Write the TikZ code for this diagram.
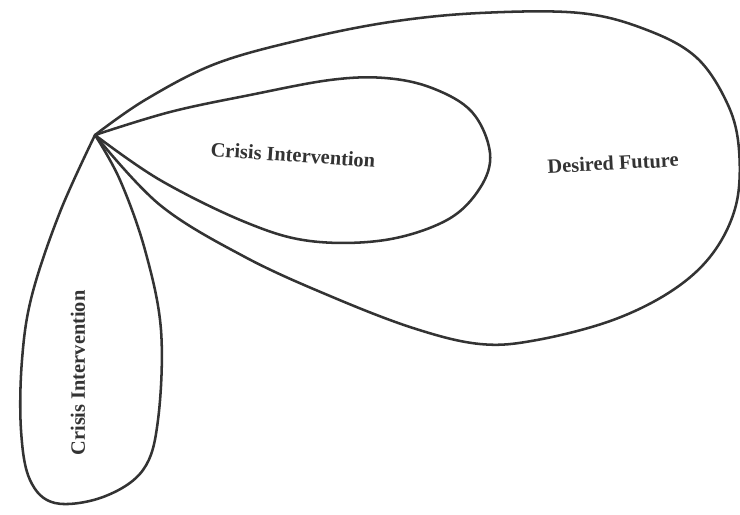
\documentclass[tikz,border=0pt]{standalone}
\usepackage{fontspec}
\setmainfont{Liberation Serif}
\usepackage{tikz}

\begin{document}
\begin{tikzpicture}[
  x=0.025cm, y=-0.025cm,
  loopline/.style = {draw=black!80, line width=1.8pt, line join=round, line cap=round},
  lbl/.style = {font=\bfseries\fontsize{14.5}{16}\selectfont, text=black!80, inner sep=0pt}
]
\useasboundingbox (0,0) rectangle (740,514);
\coordinate (apex) at (95,135);

% outer loop
\draw[loopline] plot[smooth, tension=0.6] coordinates {
  (apex) (145,100) (215,64) (300,40) (390,22) (480,13) (580,13) (647,30)
  (697,58) (728,105) (739,150) (736,205) (713,253) (673,290) (613,320)
  (537,340) (480,344) (413,328) (330,296) (245,257) (160,205) (apex)};
% inner loop
\draw[loopline] plot[smooth, tension=0.6] coordinates {
  (apex) (170,112) (250,95) (330,80) (385,78) (432,88) (472,112) (490,153)
  (480,188) (447,220) (385,240) (310,241) (245,222) (160,180) (apex)};
% left loop
\draw[loopline] plot[smooth, tension=0.6] coordinates {
  (apex) (60,212) (32,295) (22,360) (21,430) (30,480) (55,503) (103,497)
  (143,470) (158,420) (161,330) (145,250) (120,180) (apex)};

\node[lbl, rotate=-4] (ci1) at (293,155) {Crisis Intervention};
\node[lbl, rotate=3] (df) at (613,163) {Desired Future};
\node[lbl, rotate=90] (ci2) at (78,373) {Crisis Intervention};
\end{tikzpicture}
\end{document}
